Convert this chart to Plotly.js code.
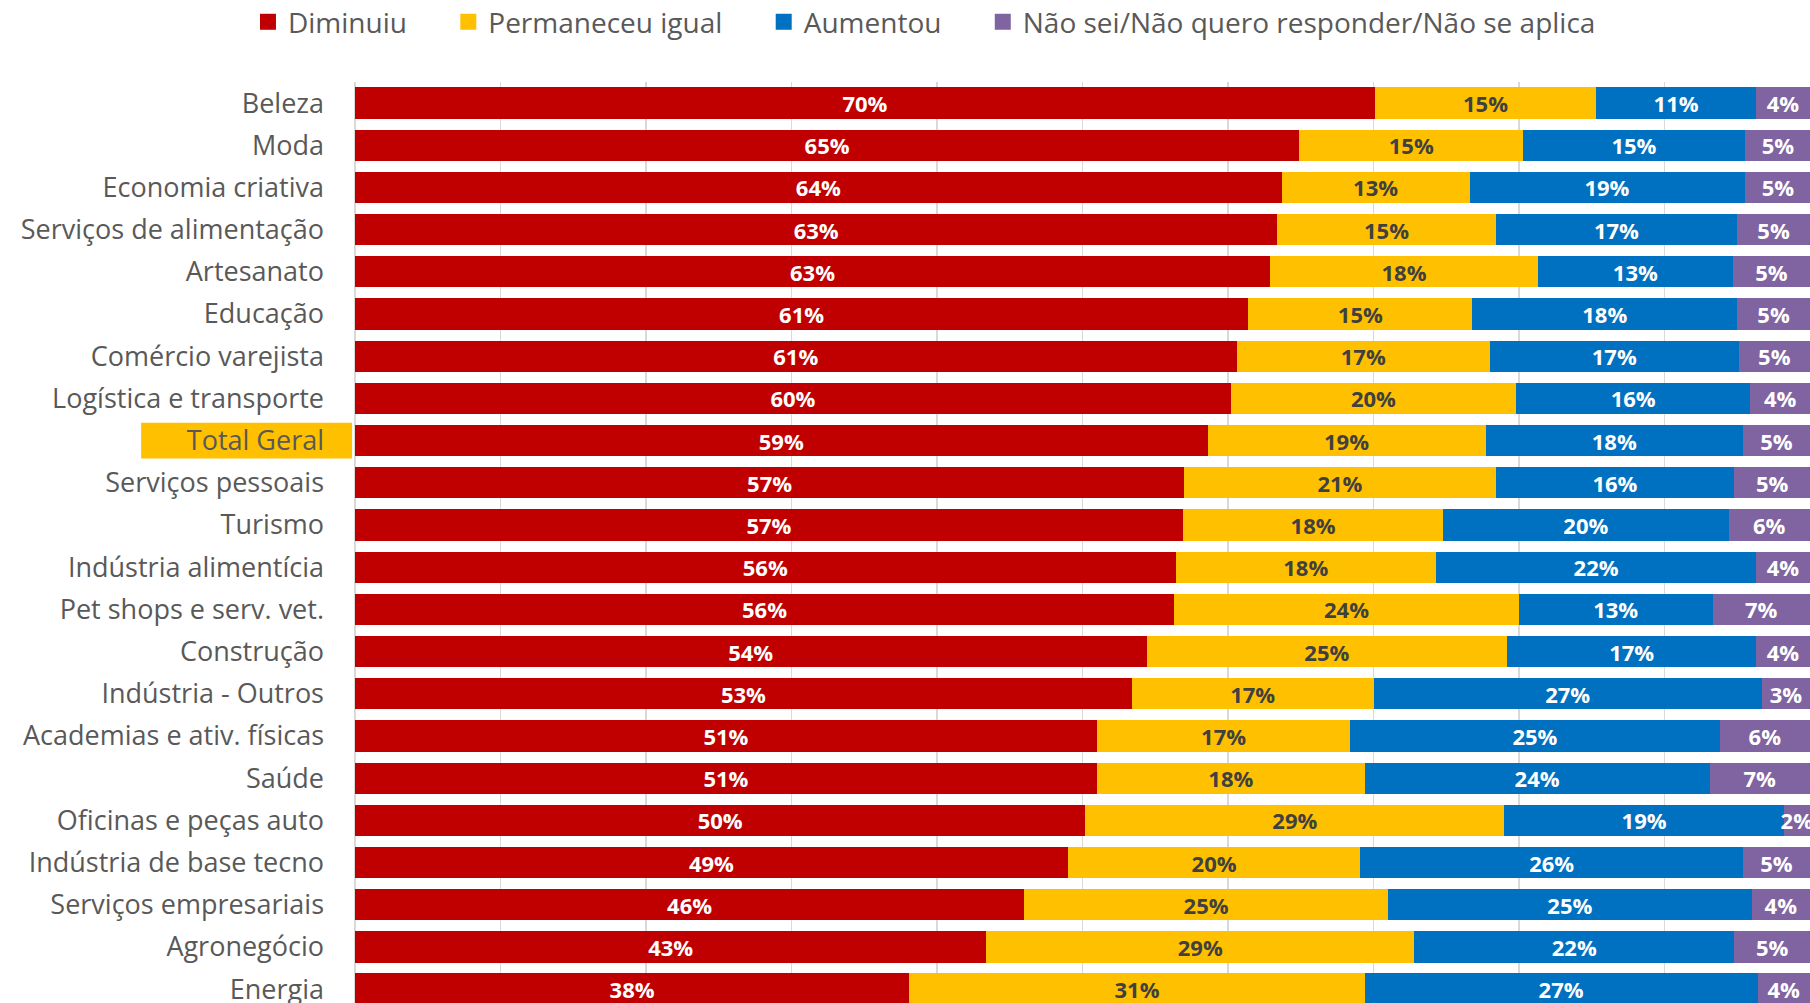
<!DOCTYPE html>
<html>
<head>
<meta charset="utf-8">
<script src="https://cdn.plot.ly/plotly-3.0.1.min.js"></script>
<style>html,body{margin:0;padding:0;background:#fff;}#chart{width:1810px;height:1003px;}</style>
</head>
<body>
<div id="chart"></div>
<script>
const categories = ["Beleza","Moda","Economia criativa","Serviços de alimentação","Artesanato","Educação","Comércio varejista","Logística e transporte","Total Geral","Serviços pessoais","Turismo","Indústria alimentícia","Pet shops e serv. vet.","Construção","Indústria - Outros","Academias e ativ. físicas","Saúde","Oficinas e peças auto","Indústria de base tecno","Serviços empresariais","Agronegócio","Energia"];
const diminuiu    = [70.1,64.9,63.7,63.4,62.9,61.4,60.6,60.2,58.6,57.0,56.9,56.4,56.3,54.4,53.4,51.0,51.0,50.2,49.0,46.0,43.4,38.1];
const permaneceu  = [15.2,15.4,12.9,15.0,18.4,15.4,17.4,19.6,19.1,21.4,17.9,17.9,23.7,24.8,16.6,17.4,18.4,28.8,20.1,25.0,29.4,31.3];
const aumentou    = [11.0,15.2,18.9,16.6,13.4,18.2,17.1,16.1,17.7,16.4,19.6,22.0,13.3,17.1,26.7,25.4,23.7,19.2,26.3,25.0,22.0,27.0];
const naoSei      = [3.7,4.6,4.6,5.0,5.3,5.0,4.9,4.1,4.6,5.2,5.6,3.7,6.7,3.7,3.3,6.2,6.9,1.8,4.6,4.0,5.2,3.6];
const seriesNames = ["Diminuiu","Permaneceu igual","Aumentou","Não sei/Não quero responder/Não se aplica"];

const colors = ["#C00000","#FFC000","#0070C0","#8064A2"];
const textColors = ["#FFFFFF","#404040","#FFFFFF","#FFFFFF"];
const values = [diminuiu, permaneceu, aumentou, naoSei];
const pad = '\u00a0\u00a0\u00a0\u00a0\u00a0';

const traces = values.map((v,i)=>({
  type:'bar', orientation:'h', name:seriesNames[i], showlegend:false,
  y:categories, x:v,
  marker:{color:colors[i], line:{width:0}},
  texttemplate:'%{x:.0f}%', textposition:'inside', insidetextanchor:'middle',
  constraintext:'none', textangle:0,
  textfont:{family:'Open Sans, sans-serif', size:22, color:textColors[i], weight:'bold'},
  hoverinfo:'skip', cliponaxis:true
}));
// legend entries (square markers like the reference)
seriesNames.forEach((n,i)=>traces.push({
  type:'scatter', mode:'markers', name: i < seriesNames.length-1 ? n + pad : n, x:[null], y:[null],
  marker:{symbol:'square', size:16, color:colors[i]}, hoverinfo:'skip', showlegend:true
}));

const layout = {
  width:1810, height:1003,
  margin:{l:355, r:0, t:82, b:0, autoexpand:false},
  barmode:'stack', bargap:0.26,
  paper_bgcolor:'#fff', plot_bgcolor:'#fff',
  font:{family:'Open Sans, sans-serif', color:'#595959'},
  xaxis:{range:[0,100], dtick:10, showgrid:true, gridcolor:'#d9d9d9', gridwidth:1.5,
         zeroline:true, zerolinecolor:'#d9d9d9', zerolinewidth:1.5, showticklabels:false, fixedrange:true},
  yaxis:{type:'category', categoryorder:'array', categoryarray:categories,
         range:[21.33,-0.5], showgrid:false, zeroline:false, ticks:'',
         ticklabelstandoff:30, tickfont:{size:27, color:'#595959'}},
  legend:{orientation:'h', xref:'container', x:0.137, xanchor:'left', yref:'container', y:0.978, yanchor:'middle',
          font:{size:28, color:'#595959'}, traceorder:'normal', itemclick:false, itemwidth:30},
  showlegend:true,
  shapes:[{type:'rect', xref:'paper', yref:'y', x0:-0.147, x1:-0.002, y0:8-0.424, y1:8+0.424,
           fillcolor:'#FFC000', line:{width:0}, layer:'below'}]
};
Plotly.newPlot('chart', traces, layout, {displayModeBar:false, staticPlot:true});
</script>
</body>
</html>
